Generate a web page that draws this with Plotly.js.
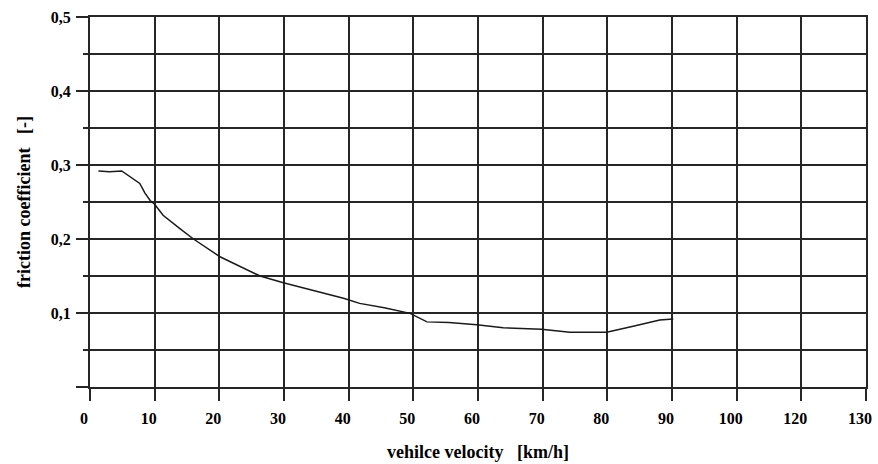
<!DOCTYPE html>
<html>
<head>
<meta charset="utf-8">
<script src="https://cdn.plot.ly/plotly-3.0.1.min.js"></script>
<style>html,body{margin:0;padding:0;background:#fff;}#chart{width:878px;height:464px;}</style>
</head>
<body>
<div id="chart"></div>
<script>
// Curve: friction coefficient vs vehicle velocity
const velocity = [1.3, 3.0, 4.9, 6.2, 7.7, 8.5, 9.3, 10.0, 11.3, 13.9, 16.0, 20.1, 23.2, 26.3, 29.9, 34.5, 39.2, 41.7, 45.5, 49.5, 52.1, 55.5, 59.8, 63.9, 69.8, 74.2, 79.9, 84.5, 88.1, 90.2];
const friction = [0.292, 0.291, 0.292, 0.284, 0.275, 0.262, 0.252, 0.247, 0.232, 0.214, 0.200, 0.176, 0.163, 0.150, 0.141, 0.131, 0.120, 0.113, 0.107, 0.0995, 0.088, 0.087, 0.084, 0.080, 0.078, 0.074, 0.074, 0.083, 0.0905, 0.092];

// Axis tick labels as printed in the original
const xTickVals = [0, 10, 20, 30, 40, 50, 60, 70, 80, 90, 100, 110, 120];
const xTickText = ["0", "10", "20", "30", "40", "50", "60", "70", "80", "90", "100", "120", "130"];
const yTickVals = [0, 0.1, 0.2, 0.3, 0.4, 0.5];
const yTickText = ["", "0,1", "0,2", "0,3", "0,4", "0,5"];
const yMinorVals = [0.05, 0.15, 0.25, 0.35, 0.45];

const serif = 'Liberation Serif';
const gridColor = '#262626';
const tickFont = {family: serif, size: 16, color: '#000', weight: 700};
const titleFont = {family: serif, size: 18, color: '#000', weight: 700};

const trace = {
  x: velocity, y: friction, type: 'scatter', mode: 'lines',
  line: {color: '#1a1a1a', width: 1.5},
  hoverinfo: 'x+y', showlegend: false
};

const layout = {
  width: 878, height: 464,
  margin: {l: 90, r: 12, t: 17, b: 77},
  paper_bgcolor: '#fff', plot_bgcolor: '#fff',
  font: {family: serif, color: '#000'},
  xaxis: {
    range: [0, 120], tickmode: 'array', tickvals: xTickVals, ticktext: xTickText,
    showgrid: true, gridcolor: gridColor, gridwidth: 2,
    ticks: 'outside', ticklen: 12, tickwidth: 2, tickcolor: gridColor,
    showline: true, linecolor: gridColor, linewidth: 2, mirror: true,
    zeroline: false, tickfont: tickFont, ticklabelstandoff: 4, ticklabelshift: -6,
    title: {text: 'vehilce velocity\u00A0\u00A0 [km/h]', font: titleFont, standoff: 19}
  },
  yaxis: {
    range: [0, 0.5], tickmode: 'array', tickvals: yTickVals, ticktext: yTickText,
    showgrid: true, gridcolor: gridColor, gridwidth: 2,
    ticks: 'outside', ticklen: 12, tickwidth: 2, tickcolor: gridColor,
    showline: true, linecolor: gridColor, linewidth: 2, mirror: true,
    zeroline: false, tickfont: tickFont, ticklabelstandoff: 2,
    minor: {tickmode: 'array', tickvals: yMinorVals, ticks: 'outside', ticklen: 5, tickwidth: 2, tickcolor: gridColor, showgrid: true, gridcolor: gridColor, gridwidth: 2},
    title: {text: 'friction coefficient\u00A0\u00A0 [-]', font: titleFont, standoff: 15}
  }
};

Plotly.newPlot('chart', [trace], layout, {displayModeBar: false, staticPlot: true});
</script>
</body>
</html>
